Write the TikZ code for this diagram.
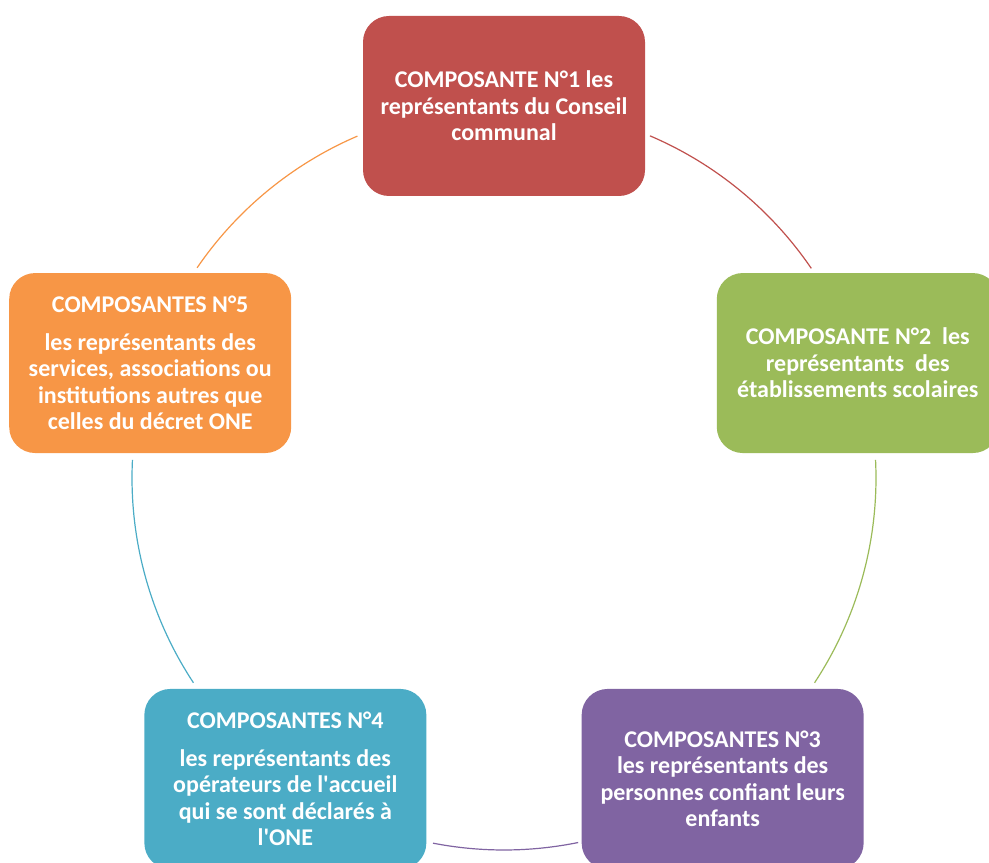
\documentclass[tikz,border=0pt]{standalone}
\usepackage{fontspec}
\setmainfont{Carlito}
\usepackage{xcolor}
\usetikzlibrary{calc}

\definecolor{compRed}{HTML}{C0504D}
\definecolor{compGreen}{HTML}{9BBB59}
\definecolor{compPurple}{HTML}{8064A2}
\definecolor{compBlue}{HTML}{4BACC6}
\definecolor{compOrange}{HTML}{F79646}

\begin{document}
\begin{tikzpicture}[x=1pt, y=1pt,
  comp/.style={rounded corners=26pt, minimum width=282pt, minimum height=180pt,
    inner sep=0pt, text=white, align=center,
    font=\bfseries\fontsize{24}{26.5}\selectfont},
  link/.style={line width=1.2pt}]

% ------------------------
% PARAMETERS
% ------------------------
\def\R{372}
\useasboundingbox (0,0) rectangle (989,863);
\coordinate (ctr) at (504,385);

% ------------------------
% Components
% ------------------------
\node[comp, fill=compRed] (compOne) at ($(ctr)+(90:\R)$)
  {COMPOSANTE N°1 les\\représentants du Conseil\\communal};

\node[comp, fill=compGreen] (compTwo) at ($(ctr)+(18:\R)$)
  {COMPOSANTE N°2\ \ les\\représentants\ \ des\\établissements scolaires};

\node[comp, fill=compPurple] (compThree) at ($(ctr)+(-54:\R)$)
  {COMPOSANTES N°3\\les représentants des\\personnes confiant leurs\\enfants};

\node[comp, fill=compBlue] (compFour) at ($(ctr)+(-126:\R)$)
  {COMPOSANTES N°4\\[11pt]les représentants des\\opérateurs de l\textquotesingle accueil\\qui se sont déclarés à\\l\textquotesingle ONE};

\node[comp, fill=compOrange] (compFive) at ($(ctr)+(162:\R)$)
  {COMPOSANTES N°5\\[11pt]les représentants des\\services, associations ou\\institutions autres que\\celles du décret ONE};

% ------------------------
% Circle arcs between components
% ------------------------
\draw[link, compRed] ($(ctr)+(66.9:\R)$) arc[start angle=66.9, end angle=34.3, radius=\R];
\draw[link, compGreen] ($(ctr)+(2.8:\R)$) arc[start angle=2.8, end angle=-33.4, radius=\R];
\draw[link, compPurple] ($(ctr)+(-78.5:\R)$) arc[start angle=-78.5, end angle=-101, radius=\R];
\draw[link, compBlue] ($(ctr)+(213.4:\R)$) arc[start angle=213.4, end angle=177.2, radius=\R];
\draw[link, compOrange] ($(ctr)+(145.6:\R)$) arc[start angle=145.6, end angle=113.2, radius=\R];

\end{tikzpicture}
\end{document}
